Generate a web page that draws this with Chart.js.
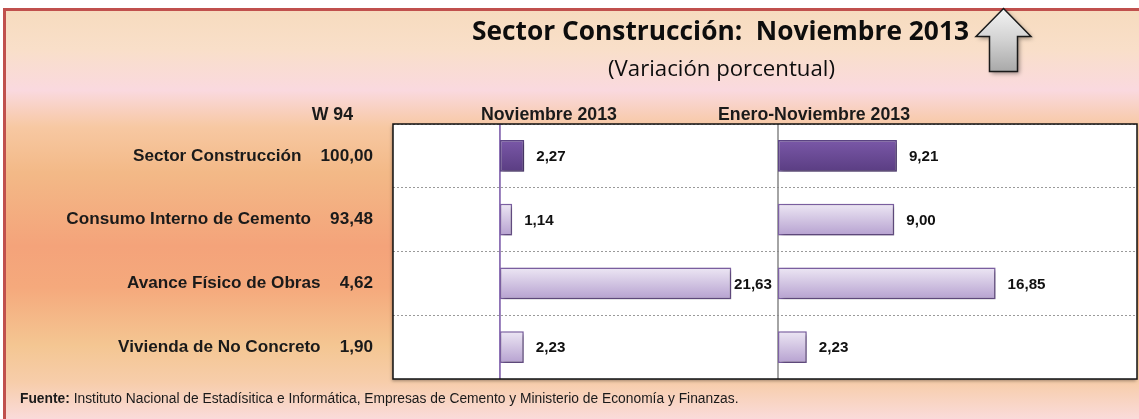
<!DOCTYPE html>
<html><head><meta charset="utf-8">
<script src="https://cdn.jsdelivr.net/npm/chart.js@4.4.1/dist/chart.umd.min.js"></script>
<style>html,body{margin:0;padding:0;background:#fff;overflow:hidden}#wrap{position:relative;width:1139px;height:419px}</style>
</head><body><div id="wrap"><canvas id="c" width="1139" height="419"></canvas></div>
<script>
// ---- data ----
const categories = ['Sector Construcción', 'Consumo Interno de Cemento', 'Avance Físico de Obras', 'Vivienda de No Concreto'];
const weights = ['100,00', '93,48', '4,62', '1,90'];
const novValues = [2.27, 1.14, 21.63, 2.23];
const eneNovValues = [9.21, 9.00, 16.85, 2.23];
const seriesNames = ['Noviembre 2013', 'Enero-Noviembre 2013'];
const weightHeader = 'W 94';
const titleText = 'Sector Construcción:  Noviembre 2013';
const subtitleText = '(Variación porcentual)';
const sourceLabel = 'Fuente:';
const sourceText = ' Instituto Nacional de Estadísitica e Informática, Empresas de Cemento y Ministerio de Economía y Finanzas.';

// ---- fonts ----
const COND = "'Liberation Sans', Arial, sans-serif";
const SANS = "'Open Sans', sans-serif";
const mctx = document.createElement('canvas').getContext('2d');
function fit(text, weight, family, target) {
  mctx.font = weight + ' 100px ' + family;
  return 100 * target / mctx.measureText(text).width;
}
const labelSize = fit('Consumo Interno de Cemento', 'bold', COND, 245);
const headerSize = fit('Noviembre 2013', 'bold', COND, 136);
const valueSize = fit('21,63', 'bold', COND, 38);
const titleSize = fit(titleText, 'bold', SANS, 497);
const subSize = fit(subtitleText, 'normal', SANS, 227);
mctx.font = 'bold 100px ' + COND; const fw1 = mctx.measureText(sourceLabel).width;
mctx.font = 'normal 100px ' + COND; const fw2 = mctx.measureText(sourceText).width;
const footSize = 100 * 719 / (fw1 + fw2);

function fmt(v) { return v.toFixed(2).replace('.', ','); }

function barFill(c) {
  const dark = c.dataIndex === 0;
  const ya = c.chart.scales.y;
  if (!ya || c.type !== 'data' || !ya.height) return dark ? '#6A4B96' : '#CFC2E2';
  const yc = ya.getPixelForValue(c.dataIndex);
  const half = ya.height / categories.length * 0.25;
  const g = c.chart.ctx.createLinearGradient(0, yc - half, 0, yc + half);
  if (dark) { g.addColorStop(0, '#7A58A8'); g.addColorStop(1, '#5A3D82'); }
  else { g.addColorStop(0, '#EDE7F4'); g.addColorStop(1, '#B6A1D0'); }
  return g;
}
function barBorder(c) { return c.dataIndex === 0 ? '#5E4687' : '#7F62A6'; }

const deco = {
  id: 'deco',
  beforeDraw(chart) {
    const ctx = chart.ctx, W = chart.width, H = chart.height, a = chart.chartArea;
    ctx.save();
    ctx.fillStyle = '#ffffff'; ctx.fillRect(0, 0, W, H);
    const g = ctx.createLinearGradient(0, 8, 0, H);
    g.addColorStop(0.00, '#F6DBBE');
    g.addColorStop(0.10, '#F9DFC9');
    g.addColorStop(0.20, '#FAD9DF');
    g.addColorStop(0.29, '#F7C8A2');
    g.addColorStop(0.40, '#F3B987');
    g.addColorStop(0.58, '#F4A37A');
    g.addColorStop(0.68, '#F5A97C');
    g.addColorStop(0.82, '#F4C692');
    g.addColorStop(0.91, '#F7CDAA');
    g.addColorStop(1.00, '#FADBDA');
    ctx.fillStyle = g; ctx.fillRect(3, 8, W, H);
    ctx.fillStyle = '#C0504D';
    ctx.fillRect(3, 8, W, 3);
    ctx.fillRect(3, 8, 3, H);

    // up arrow
    ctx.save();
    ctx.shadowColor = 'rgba(0,0,0,0.4)'; ctx.shadowBlur = 4; ctx.shadowOffsetX = 2; ctx.shadowOffsetY = 2;
    ctx.beginPath();
    ctx.moveTo(1003.5, 8.5); ctx.lineTo(1031, 36.5); ctx.lineTo(1017.5, 36.5); ctx.lineTo(1017.5, 71.5);
    ctx.lineTo(989.5, 71.5); ctx.lineTo(989.5, 36.5); ctx.lineTo(976, 36.5); ctx.closePath();
    const ag = ctx.createLinearGradient(0, 8, 0, 72);
    ag.addColorStop(0, '#F4F4F4'); ag.addColorStop(0.5, '#D2D2D2'); ag.addColorStop(1, '#A8A8A8');
    ctx.fillStyle = ag; ctx.fill();
    ctx.shadowColor = 'transparent';
    ctx.lineWidth = 1.5; ctx.strokeStyle = '#1a1a1a'; ctx.lineJoin = 'miter'; ctx.stroke();
    ctx.restore();

    // titles
    ctx.fillStyle = '#0d0d0d'; ctx.textBaseline = 'alphabetic'; ctx.textAlign = 'center';
    ctx.font = 'bold ' + titleSize + 'px ' + SANS; ctx.fillText(titleText, 720.5, 39.5);
    ctx.font = 'normal ' + subSize + 'px ' + SANS; ctx.fillText(subtitleText, 721.5, 76);

    // column headers
    const x1 = chart.scales.x1, x2 = chart.scales.x2;
    ctx.fillStyle = '#1a1a1a';
    ctx.font = 'bold ' + headerSize + 'px ' + COND;
    ctx.textAlign = 'right'; ctx.fillText(weightHeader, a.left - 40, a.top - 4);
    ctx.textAlign = 'center'; ctx.fillText(seriesNames[0], x1.getPixelForValue(0) + 49, a.top - 4);
    ctx.textAlign = 'left'; ctx.fillText(seriesNames[1], x2.left - 60, a.top - 4);

    // footer
    ctx.textAlign = 'left';
    ctx.font = 'bold ' + footSize + 'px ' + COND; ctx.fillText(sourceLabel, 20, 403);
    const lw = ctx.measureText(sourceLabel).width;
    ctx.font = 'normal ' + footSize + 'px ' + COND; ctx.fillText(sourceText, 20 + lw, 403);

    // table panel
    ctx.save();
    ctx.shadowColor = 'rgba(0,0,0,0.35)'; ctx.shadowBlur = 3; ctx.shadowOffsetX = -1; ctx.shadowOffsetY = 2;
    ctx.fillStyle = '#ffffff'; ctx.fillRect(a.left, a.top, a.right - a.left, a.bottom - a.top);
    ctx.restore();
    ctx.restore();
  },
  beforeDatasetsDraw(chart) {
    const ctx = chart.ctx, a = chart.chartArea;
    ctx.save();
    const z1 = chart.scales.x1.getPixelForValue(0), z2 = chart.scales.x2.getPixelForValue(0);
    ctx.lineWidth = 1.5;
    ctx.strokeStyle = '#7452A4'; ctx.beginPath(); ctx.moveTo(z1, a.top); ctx.lineTo(z1, a.bottom); ctx.stroke();
    ctx.strokeStyle = '#868686'; ctx.beginPath(); ctx.moveTo(z2, a.top); ctx.lineTo(z2, a.bottom); ctx.stroke();
    ctx.restore();
    ctx.save();
    ctx.shadowColor = 'rgba(0,0,0,0.35)'; ctx.shadowBlur = 4; ctx.shadowOffsetX = 2; ctx.shadowOffsetY = 2;
  },
  afterDatasetsDraw(chart) {
    const ctx = chart.ctx, a = chart.chartArea;
    ctx.restore();
    ctx.save();
    ctx.lineWidth = 1.5; ctx.strokeStyle = '#111';
    ctx.strokeRect(a.left, a.top, a.right - a.left, a.bottom - a.top);
    ctx.font = 'bold ' + valueSize + 'px ' + COND;
    ctx.fillStyle = '#111'; ctx.textBaseline = 'middle'; ctx.textAlign = 'left';
    chart.data.datasets.forEach((ds, di) => {
      const meta = chart.getDatasetMeta(di);
      const xs = chart.scales[ds.xAxisID];
      meta.data.forEach((bar, i) => {
        const txt = fmt(ds.data[i]);
        const w = ctx.measureText(txt).width;
        let x = bar.x + 12;
        const lim = xs.right - 6 - w;
        if (x > lim) x = lim;
        ctx.fillText(txt, x, bar.y + 1);
      });
    });
    ctx.restore();
  }
};

new Chart(document.getElementById('c'), {
  type: 'bar',
  data: {
    labels: categories,
    datasets: [
      { label: seriesNames[0], data: novValues, xAxisID: 'x1', yAxisID: 'y',
        backgroundColor: barFill, borderColor: barBorder },
      { label: seriesNames[1], data: eneNovValues, xAxisID: 'x2', yAxisID: 'y',
        backgroundColor: barFill, borderColor: barBorder }
    ]
  },
  options: {
    indexAxis: 'y',
    responsive: false,
    animation: false,
    devicePixelRatio: 1,
    layout: { padding: { left: 0, top: 124, right: 2, bottom: 40 } },
    datasets: { bar: { grouped: false, barPercentage: 0.5, categoryPercentage: 1, borderWidth: 1.5, borderSkipped: false } },
    plugins: { legend: { display: false }, title: { display: false }, tooltip: { enabled: false } },
    scales: {
      y: {
        type: 'category', position: 'left', offset: true,
        grid: { offset: true, color: '#9a9a9a', lineWidth: 1, drawTicks: false },
        border: { display: false, dash: [2, 2] },
        ticks: { padding: 20, color: '#1a1a1a', font: { family: COND, weight: 'bold', size: labelSize },
                 callback: (v, i) => categories[i] + '    ' + weights[i] },
        afterFit: s => { s.width = 393; }
      },
      x1: { type: 'linear', axis: 'x', position: 'bottom', stack: 'panels', stackWeight: 385, min: -10, max: 26, display: false },
      x2: { type: 'linear', axis: 'x', position: 'bottom', stack: 'panels', stackWeight: 359, min: 0, max: 27.8, display: false }
    }
  },
  plugins: [deco]
});
</script></body></html>
